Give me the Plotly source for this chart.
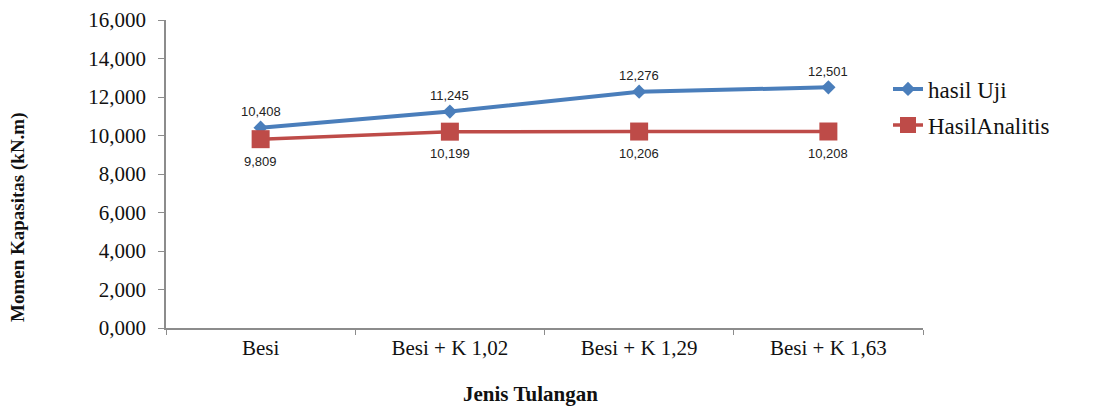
import plotly.graph_objects as go

categories = ["Besi", "Besi + K 1,02", "Besi + K 1,29", "Besi + K 1,63"]
hasil_uji = [10.408, 11.245, 12.276, 12.501]
hasil_analitis = [9.809, 10.199, 10.206, 10.208]
y_ticks = [0, 2, 4, 6, 8, 10, 12, 14, 16]

W, H = 1094, 409
ML, MR, MT, MB = 166, 171, 20, 81

BLUE = "#4A7EBB"
RED = "#BE4B48"
AXIS = "#8C8C8C"
SERIF = "Liberation Serif, serif"
SANS = "Liberation Sans, sans-serif"


def fmt(v):
    return f"{v:,.3f}".replace(",", " ").replace(".", ",").replace(" ", ".")


fig = go.Figure()
fig.add_trace(go.Scatter(
    x=categories, y=hasil_uji, name="hasil Uji", mode="lines+markers",
    line=dict(color=BLUE, width=4),
    marker=dict(symbol="diamond", size=11, color=BLUE),
    legend="legend",
))
fig.add_trace(go.Scatter(
    x=categories, y=hasil_analitis, name="HasilAnalitis", mode="lines+markers",
    line=dict(color=RED, width=3.5),
    marker=dict(symbol="square", size=18, color=RED),
    legend="legend2",
))

# value labels: test results above, analytical results below
for c, v in zip(categories, hasil_uji):
    fig.add_annotation(x=c, y=v, text=fmt(v), showarrow=False, yshift=16,
                       font=dict(family=SANS, size=13, color="#222"))
for c, v in zip(categories, hasil_analitis):
    fig.add_annotation(x=c, y=v, text=fmt(v), showarrow=False, yshift=-22,
                       font=dict(family=SANS, size=13, color="#222"))

# axis titles
fig.add_annotation(xref="paper", yref="paper", x=(18 - ML) / (W - ML - MR),
                   y=(H - MB - 217) / (H - MT - MB), text="<b>Momen Kapasitas (kN.m)</b>",
                   textangle=-90, showarrow=False, xanchor="center", yanchor="middle",
                   font=dict(family=SERIF, size=19, color="#111"))
fig.add_annotation(xref="paper", yref="paper", x=(530 - ML) / (W - ML - MR),
                   y=(H - MB - 394) / (H - MT - MB), text="<b>Jenis Tulangan</b>",
                   showarrow=False, xanchor="center", yanchor="middle",
                   font=dict(family=SERIF, size=21, color="#111"))

legend_font = dict(family=SERIF, size=23, color="#111")

fig.update_layout(
    width=W, height=H,
    margin=dict(l=ML, r=MR, t=MT, b=MB, autoexpand=False),
    paper_bgcolor="white", plot_bgcolor="white",
    font=dict(family=SERIF, color="#111"),
    separators=",.",
    showlegend=True,
    legend=dict(x=888 / W, y=1 - 89 / H, xref="container", yref="container",
                xanchor="left", yanchor="middle", bgcolor="rgba(0,0,0,0)",
                font=legend_font),
    legend2=dict(x=888 / W, y=1 - 125 / H, xref="container", yref="container",
                 xanchor="left", yanchor="middle", bgcolor="rgba(0,0,0,0)",
                 font=legend_font),
    xaxis=dict(
        type="category", range=[-0.5, 3.5],
        showline=True, linecolor=AXIS, linewidth=1.5,
        ticks="outside", ticklen=5, tickcolor=AXIS, tickson="boundaries",
        showgrid=False, zeroline=False,
        tickfont=dict(family=SERIF, size=21, color="#111"),
    ),
    yaxis=dict(
        range=[0, 16], tickvals=y_ticks, tickformat=".3f",
        showline=True, linecolor=AXIS, linewidth=1.5,
        ticks="outside", ticklen=6, tickcolor=AXIS,
        showgrid=False, zeroline=False, ticklabelstandoff=8,
        tickfont=dict(family=SERIF, size=21, color="#111"),
    ),
)

fig.write_html("out.html")
